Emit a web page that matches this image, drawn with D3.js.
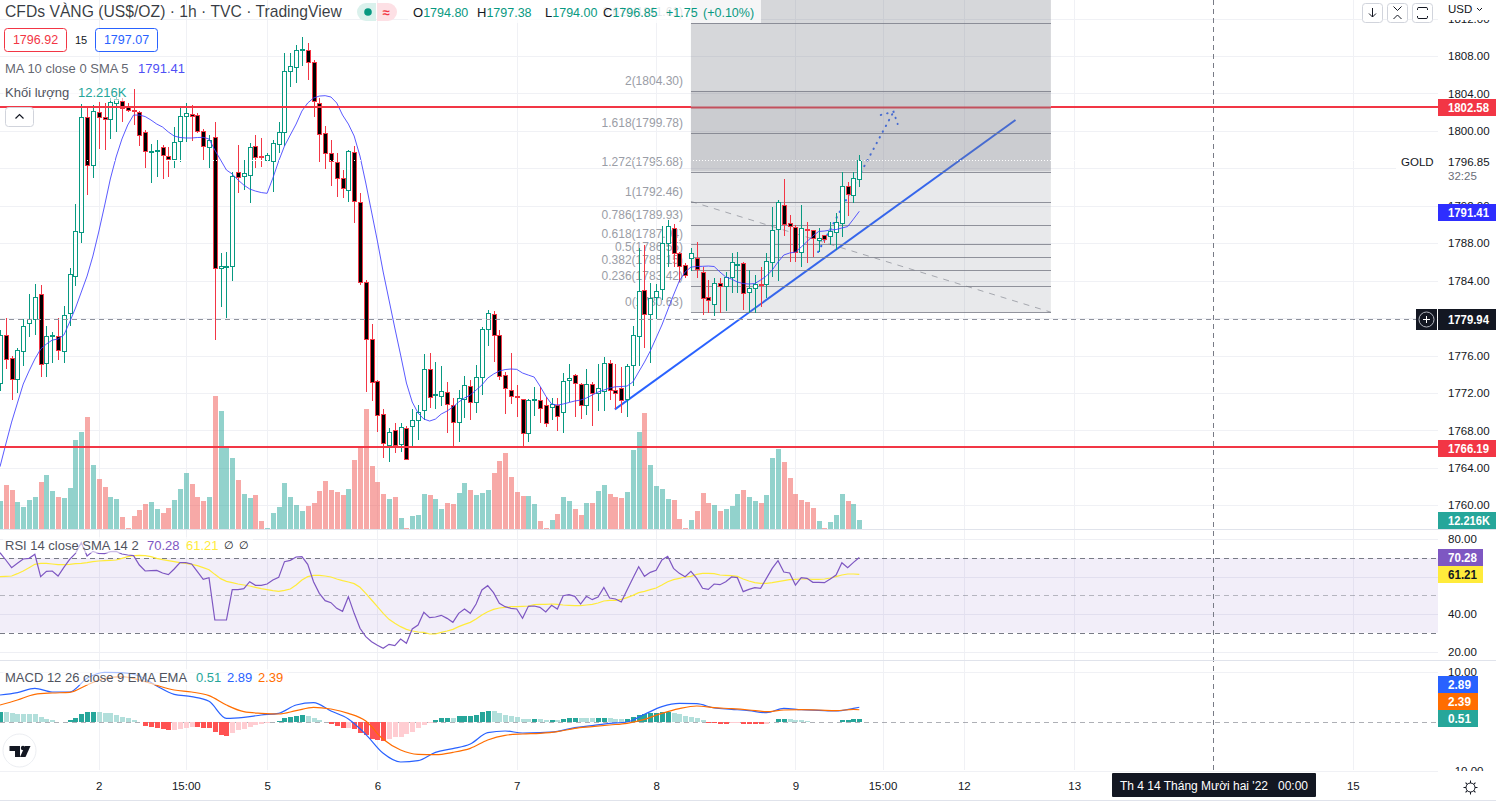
<!DOCTYPE html>
<html>
<head>
<meta charset="utf-8">
<script src="https://cdn.jsdelivr.net/npm/d3@7"></script>
<style>
  html, body { margin: 0; padding: 0; background: #fff; overflow: hidden; }
  svg { display: block; font-family: "Liberation Sans", Arial, sans-serif; }
</style>
</head>
<body>
<div id="svg"></div>
<script>
var width = 1496, height = 806;

// candles, one per hour
var opens = [1773.09,1778.19,1775.70,1773.45,1776.40,1779.44,1779.87,1782.54,1775.17,1778.08,
1778.05,1776.40,1780.51,1784.52,1789.19,1801.48,1796.35,1801.98,1801.45,1801.30,
1802.98,1803.19,1802.69,1802.23,1802.05,1799.85,1797.77,1797.88,1798.24,1797.28,
1797.07,1798.88,1801.55,1801.83,1801.73,1800.02,1798.20,1799.31,1785.35,1785.49,
1785.59,1795.57,1795.18,1795.36,1798.35,1797.28,1796.96,1796.85,1798.56,1799.80,
1806.36,1806.75,1808.64,1808.61,1807.32,1803.01,1799.74,1797.60,1796.70,1794.93,
1793.68,1797.71,1792.37,1783.82,1777.73,1773.31,1769.72,1766.51,1768.07,1766.51,
1768.28,1768.39,1769.14,1770.14,1774.52,1771.75,1771.75,1772.07,1770.68,1768.82,
1771.32,1772.71,1771.10,1773.67,1778.80,1780.40,1778.16,1773.88,1772.34,1771.70,
1771.32,1767.69,1771.28,1771.28,1770.74,1770.46,1770.71,1769.89,1773.35,1773.88,
1772.92,1770.68,1772.92,1772.07,1772.24,1775.23,1772.34,1772.49,1771.43,1774.91,
1778.16,1783.03,1780.36,1782.32,1783.07,1787.99,1789.59,1786.92,1785.70,1786.42,
1786.45,1784.95,1782.22,1781.47,1783.78,1783.42,1784.35,1785.70,1785.85,1782.86,
1783.18,1783.61,1783.61,1785.96,1789.48,1792.05,1790.12,1789.70,1787.02,1789.48,
1789.38,1788.31,1788.84,1788.73,1789.16,1790.12,1794.08,1793.22,1794.80];

var highs = [1778.72,1779.97,1775.95,1776.77,1779.87,1782.57,1783.64,1783.53,1779.15,1778.54,
1779.97,1781.29,1785.35,1792.18,1802.87,1802.65,1802.76,1803.08,1802.98,1803.51,
1803.62,1803.51,1802.98,1804.44,1802.15,1800.09,1798.56,1799.02,1798.49,1798.31,
1800.44,1802.52,1802.94,1802.76,1801.88,1800.17,1799.56,1800.98,1786.95,1787.09,
1795.64,1798.49,1796.89,1798.67,1799.56,1799.20,1797.60,1799.02,1800.91,1808.35,
1808.29,1809.17,1810.06,1809.42,1807.57,1803.48,1800.52,1799.02,1797.60,1795.82,
1797.95,1798.38,1793.33,1784.06,1779.36,1773.38,1770.25,1768.22,1768.82,1768.79,
1768.47,1770.25,1770.71,1776.16,1776.23,1775.27,1774.88,1773.14,1771.43,1772.31,
1773.81,1773.38,1774.98,1779.08,1780.86,1780.79,1778.72,1774.27,1776.23,1772.85,
1771.35,1771.35,1772.60,1772.60,1771.60,1771.43,1771.46,1774.13,1775.06,1774.02,
1773.09,1774.52,1773.14,1775.09,1775.81,1775.52,1775.09,1774.80,1775.06,1779.15,
1787.45,1787.80,1783.71,1783.64,1789.83,1790.48,1790.05,1787.09,1785.85,1787.45,
1788.09,1785.42,1784.06,1784.25,1784.25,1784.95,1786.98,1787.09,1786.02,1785.13,
1784.60,1785.49,1786.98,1791.90,1792.61,1794.86,1791.01,1789.94,1792.08,1790.29,
1789.41,1789.59,1788.87,1790.29,1791.19,1795.64,1794.57,1795.64,1797.38];

var lows = [1772.24,1774.56,1771.24,1772.02,1774.91,1778.01,1778.19,1773.73,1773.73,1775.23,
1775.52,1775.23,1779.15,1783.46,1788.02,1793.15,1794.96,1798.06,1797.95,1799.13,
1799.91,1800.98,1802.05,1800.62,1798.41,1796.06,1794.46,1795.10,1794.86,1795.10,
1796.06,1796.70,1798.84,1798.95,1799.74,1796.89,1796.06,1777.65,1781.21,1780.04,
1783.99,1793.33,1793.68,1792.32,1796.00,1796.11,1796.89,1793.50,1797.67,1798.41,
1804.72,1805.08,1806.96,1805.43,1801.51,1796.70,1795.89,1794.11,1792.96,1792.79,
1792.43,1790.12,1783.53,1772.13,1771.17,1767.86,1765.02,1764.65,1765.61,1765.72,
1764.94,1766.36,1766.97,1769.11,1770.36,1770.25,1770.60,1767.75,1766.25,1766.79,
1769.29,1769.11,1769.82,1771.78,1777.05,1775.30,1773.38,1769.75,1770.82,1769.46,
1766.25,1766.79,1769.57,1768.82,1768.39,1769.11,1767.96,1767.69,1771.06,1769.46,
1769.21,1769.64,1768.50,1770.07,1770.10,1771.24,1770.25,1769.89,1769.46,1772.77,
1774.91,1776.80,1775.23,1779.87,1781.93,1785.49,1785.49,1783.85,1784.25,1785.03,
1784.25,1780.33,1780.51,1780.25,1780.51,1780.75,1782.64,1782.64,1780.86,1780.51,
1780.51,1781.21,1782.17,1784.42,1783.99,1788.77,1786.02,1786.02,1785.42,1785.91,
1786.49,1787.02,1788.05,1787.80,1787.27,1788.69,1790.93,1792.26,1794.00];

var closes = [1778.19,1775.59,1773.45,1776.55,1779.12,1779.87,1782.22,1775.06,1778.05,1778.16,
1776.55,1780.29,1784.71,1789.30,1801.48,1796.35,1802.12,1801.45,1801.23,1803.11,
1803.37,1802.41,1802.30,1802.09,1799.63,1797.82,1797.88,1797.95,1797.39,1796.96,
1798.84,1801.55,1801.88,1801.66,1800.06,1798.46,1798.99,1785.35,1785.56,1785.56,
1795.18,1794.99,1795.46,1798.31,1797.17,1797.17,1797.45,1798.73,1799.85,1806.36,
1806.90,1808.61,1808.74,1807.32,1803.19,1799.74,1797.60,1796.75,1795.04,1793.82,
1797.82,1792.47,1783.82,1777.73,1773.14,1769.72,1766.62,1767.86,1766.44,1768.33,
1764.94,1769.08,1769.99,1774.52,1771.53,1771.89,1772.24,1770.78,1768.82,1771.43,
1772.81,1771.00,1773.73,1778.80,1780.51,1778.16,1773.73,1772.49,1771.75,1771.64,
1767.69,1771.21,1771.35,1770.46,1768.86,1770.78,1769.54,1773.24,1773.56,1773.03,
1770.68,1772.92,1771.96,1772.56,1775.23,1772.39,1772.07,1771.21,1774.91,1778.16,
1782.92,1780.43,1782.11,1782.92,1787.99,1789.80,1786.92,1785.53,1784.67,1786.92,
1785.31,1782.22,1781.90,1783.71,1783.50,1784.35,1785.96,1785.81,1782.64,1783.24,
1783.64,1783.46,1786.06,1789.41,1792.37,1790.02,1789.80,1787.02,1789.59,1789.33,
1788.52,1788.52,1788.41,1789.27,1790.23,1794.08,1793.22,1794.99,1796.85];

// volume in thousands
var volumes = [37.2,58.2,51.6,35.9,29.3,38.5,42.5,62.2,71.3,50.3,
42.5,41.1,54.3,117.3,127.8,147.5,84.5,66.1,55.6,42.5,
39.8,16.2,1.8,17.5,25.4,33.3,35.9,26.7,21.4,28.0,
38.5,53.0,74.0,59.5,42.5,37.2,42.5,175.1,155.4,109.4,
93.7,64.8,46.4,41.1,45.1,10.9,1.8,21.4,29.3,60.8,
42.5,32.0,24.1,30.6,34.6,50.3,63.5,51.6,49.0,45.1,
53.0,91.0,106.4,158.0,83.2,62.2,46.4,39.8,42.5,14.9,
1.8,17.5,18.8,46.4,45.1,39.8,26.7,34.6,33.3,47.7,
60.8,51.6,45.1,47.7,51.6,74.0,89.7,100.2,68.7,49.0,
43.8,43.8,33.3,10.9,1.8,12.3,20.1,42.5,37.2,26.7,
18.8,34.6,34.6,50.3,58.2,46.4,42.5,41.1,49.0,104.2,
127.8,152.8,84.5,56.9,53.0,39.8,38.5,13.6,1.8,12.3,
24.1,47.7,34.6,32.0,24.1,26.7,30.6,46.4,51.6,42.5,
37.2,34.6,45.1,93.7,105.5,88.4,67.4,46.4,38.5,35.9,
28.0,10.9,1.8,9.6,18.8,46.4,37.2,33.3,12.216];
// bars shown red even though the candle closed up
var volumeRedIndex = [138];

var maValues = [1764.12,1766.54,1768.89,1770.92,1772.95,1774.34,1775.62,1776.69,1777.23,1777.65,
1777.76,1778.19,1779.58,1781.07,1782.78,1784.49,1786.63,1789.19,1791.97,1794.86,
1797.21,1799.13,1800.63,1801.69,1801.69,1801.53,1801.16,1800.73,1800.41,1799.88,
1799.45,1799.29,1799.24,1799.24,1799.29,1799.31,1799.13,1797.95,1796.89,1795.82,
1795.39,1794.75,1794.21,1793.79,1793.57,1793.41,1793.33,1794.96,1796.78,1798.38,
1799.56,1800.73,1802.12,1802.98,1803.51,1803.72,1803.76,1803.62,1802.98,1801.69,
1800.73,1799.45,1797.31,1794.43,1791.33,1788.23,1784.92,1781.93,1778.94,1776.05,
1773.06,1771.03,1769.86,1769.21,1769.00,1769.21,1769.75,1770.07,1770.50,1771.03,
1771.46,1771.78,1772.31,1772.85,1773.59,1774.02,1774.34,1774.50,1774.56,1774.52,
1774.13,1773.91,1773.70,1772.74,1771.67,1770.82,1770.71,1770.82,1770.98,1771.14,
1771.24,1771.46,1771.78,1772.10,1772.31,1772.53,1772.66,1772.69,1772.74,1773.17,
1774.24,1775.30,1776.48,1777.87,1779.26,1780.86,1782.46,1783.96,1784.92,1785.45,
1785.51,1785.53,1785.56,1785.51,1784.92,1784.39,1784.17,1783.85,1783.69,1783.64,
1783.69,1784.06,1784.49,1785.13,1785.99,1786.74,1786.95,1787.06,1787.59,1788.18,
1788.77,1789.25,1789.30,1789.41,1789.46,1789.62,1789.78,1790.58,1791.41];

var rsiValues = [72.85,68.93,64.83,67.15,69.46,69.82,71.96,60.01,62.87,63.05,
60.37,65.01,69.28,72.49,78.20,71.07,73.56,72.49,72.31,73.38,
73.56,72.14,71.60,71.24,66.25,63.05,63.22,63.40,61.98,61.09,
64.12,67.50,67.50,66.79,62.69,58.59,59.48,36.84,36.84,36.84,
53.06,53.06,53.60,57.34,55.38,55.38,56.09,58.23,59.66,68.04,
68.75,70.53,70.71,66.61,57.34,51.10,47.18,46.11,43.08,41.48,
49.32,40.41,32.39,27.93,25.26,23.30,21.69,23.83,23.12,26.68,
24.37,32.03,34.17,40.94,38.09,38.45,39.34,37.73,35.59,40.41,
42.73,40.41,45.40,52.89,55.20,51.46,45.76,43.97,43.08,42.73,
37.73,44.15,44.33,43.62,41.12,44.69,42.73,49.85,50.39,49.50,
45.40,49.50,47.72,49.14,54.31,48.61,48.07,46.47,52.89,59.12,
65.36,60.19,62.33,63.40,68.93,70.89,64.47,61.80,60.01,62.87,
59.12,53.78,53.24,56.09,55.74,57.34,59.84,59.48,52.01,53.24,
54.13,53.78,59.12,64.47,68.57,62.51,61.98,55.56,59.48,59.12,
56.98,56.98,56.81,58.77,60.91,67.50,64.83,67.68,70.28];

var rsiSma = [60.01,60.19,60.37,61.62,63.05,64.83,66.61,67.15,67.15,66.79,
66.43,66.43,66.61,66.97,67.15,67.50,68.04,68.39,68.57,68.75,
68.93,69.82,70.71,71.24,71.42,71.24,70.71,69.82,69.11,68.57,
68.04,67.50,67.15,66.61,65.90,64.83,63.76,61.26,58.95,57.52,
56.81,56.09,55.56,55.02,54.31,53.60,53.06,52.53,52.17,52.71,
53.42,55.56,58.23,60.01,60.73,60.73,60.37,59.84,58.77,57.88,
57.16,56.27,54.31,51.10,47.54,43.97,40.41,37.20,35.06,33.28,
31.85,30.96,30.43,30.25,29.36,29.36,30.25,30.96,31.85,33.28,
34.53,35.59,37.38,39.52,41.30,42.55,43.26,43.62,43.97,43.97,
44.15,44.33,45.04,45.22,45.22,45.40,45.22,44.87,44.69,44.51,
44.51,44.87,45.22,45.93,47.00,47.36,47.36,47.89,48.79,50.03,
51.46,52.17,53.06,53.95,55.56,57.34,58.41,59.12,59.84,60.19,
61.26,61.80,61.80,61.62,60.91,60.73,60.55,60.19,58.77,57.70,
56.81,56.45,56.45,56.81,57.34,57.88,58.41,58.59,58.77,58.77,
58.59,58.59,58.77,59.30,60.01,60.91,61.44,61.44,61.21];

var macdHist = [1.90,1.90,1.76,1.56,1.56,1.56,1.56,0.95,0.54,0.34,
-0.07,-0.07,0.27,0.68,1.56,1.83,1.96,1.96,1.76,1.69,
1.36,0.95,0.75,0.34,-0.14,-0.88,-1.08,-1.29,-1.56,-1.69,
-1.63,-1.49,-1.36,-1.08,-1.08,-1.22,-1.29,-2.10,-2.71,-2.91,
-2.24,-1.69,-1.49,-1.02,-0.75,-0.47,-0.34,-0.20,0.14,0.75,
0.95,1.08,1.36,1.02,0.61,0.27,-0.07,-0.47,-0.95,-1.42,
-1.36,-1.56,-2.24,-2.71,-3.59,-3.73,-3.93,-3.52,-3.18,-3.05,
-2.51,-2.10,-1.42,-0.68,-0.34,0.27,0.61,0.75,0.75,1.02,
1.15,1.15,1.36,1.83,2.17,2.17,1.76,1.36,1.15,0.95,
0.54,0.54,0.54,0.54,0.34,0.34,0.34,0.54,0.75,0.75,
0.75,0.75,0.75,0.75,0.75,0.75,0.54,0.54,0.54,0.95,
1.36,1.56,1.69,1.69,1.83,1.96,1.69,1.56,1.15,0.95,
0.75,0.34,-0.27,-0.27,-0.47,-0.47,-0.27,-0.27,-0.47,-0.47,
-0.47,-0.47,-0.47,-0.20,0.54,0.54,0.54,0.34,0.27,0.14,
-0.07,-0.20,-0.20,-0.20,-0.20,0.34,0.34,0.54,0.51];

// D dark green, L light green, R red, P pale red
var macdKinds = ("DLLLLLLLLL" + "RRDDDDDLLL" + "LLLLRRRRRR" + "PPPPRRRRRR" +
  "PPPPPPPPDD" + "DDDLLLRRRR" + "PRRRRRRPPP" + "PPPPPDDDLD" +
  "DDDDDLLLLL" + "LLDLLDLDDD" + "LLLDDLLLDD" + "DDDDDDLLLL" +
  "LLRRRRPPRR" + "RRPPDDLLLL" + "RRRRPDDDD").split("");

var macdIndex = d3.range(0, 148, 3).concat([148]);
var macdLine = [5.39,5.86,6.74,6.00,6.00,8.77,9.99,9.93,9.25,7.22,
5.52,5.05,4.10,0.64,0.85,1.32,1.66,3.35,3.83,2.13,
0.51,-2.61,-6.47,-8.23,-7.96,-6.27,-5.52,-4.57,-2.27,-1.93,
-2.34,-2.27,-2.00,-1.25,-0.85,-0.37,-0.10,1.46,3.02,3.69,
3.62,2.74,2.47,2.20,1.80,2.68,2.41,2.27,2.13,2.68,2.89];
var macdSignal = [3.35,4.37,5.52,5.79,5.93,7.42,8.77,9.11,8.44,7.35,
6.40,6.00,5.25,3.35,2.00,1.66,1.52,2.20,2.88,2.54,
1.66,0.10,-3.62,-5.79,-6.67,-6.74,-6.27,-5.45,-3.76,-2.81,
-2.54,-2.41,-2.07,-1.39,-1.05,-0.71,-0.37,0.44,1.66,2.61,
3.15,2.81,2.61,2.34,2.00,2.34,2.41,2.34,2.20,2.47,2.39];

// fibonacci tool
var fibLevels = ["2.618","2","1.618","1.272","1","0.786","0.618","0.5","0.382","0.236","0"];
var fibPrices = [1811.61,1804.30,1799.78,1795.68,1792.46,1789.93,1787.94,1786.55,1785.15,1783.42,1780.63];
var fibZones = [[1814.1, 1804.30, 0.30], [1804.30, 1795.68, 0.385], [1795.68, 1780.63, 0.17]];
var fibStart = 119, fibEnd = 181;

var trendIndex = [105.9, 174.9], trendPrice = [1770.25, 1801.16];
var forecastIndex = [140.9, 153.9], forecastPrice = [1787.06, 1802.05];
var headIndex = [151.7, 153.9, 154.6], headPrice = [1801.7, 1802.05, 1800.73];

var redLevels = [1802.58, 1766.19];
var lastPrice = 1796.85, maLast = 1791.41, crossPrice = 1779.94, crossIndex = 209;

var priceTicks = d3.range(1760, 1813, 4);
var rsiTicks = [80, 60, 40, 20];
var rsiLabels = [80, 40, 20];
var macdTicks = [10, -10];
var timeIndex = [17, 32, 46, 65, 89, 113, 137, 152, 166, 185, 233];
var timeLabels = ["2", "15:00", "5", "6", "7", "8", "9", "15:00", "12", "13", "15"];

var plotRight = 1438;
var upColor = "#089981", downColor = "#f23645", ink = "#131722", muted = "#50535e";

var x = d3.scaleLinear().domain([0, 148]).range([0, 859.3]);
var y = d3.scaleLinear().domain([1760, 1808]).range([505.28, 56]);
var yVol = d3.scaleLinear().domain([0, 175.1]).range([529.3, 396]);
var yRsi = d3.scaleLinear().domain([20, 80]).range([651.5, 539.3]);
var yMacd = d3.scaleLinear().domain([-10, 10]).range([770.7, 672.3]);

function px(v) { return Math.round(v) + 0.5; }

var svg = d3.select("#svg").append("svg").attr("width", width).attr("height", height);

function text(g, tx, ty, str, color, size, anchor, weight) {
  return g.append("text").attr("x", tx).attr("y", ty).attr("dy", "0.35em")
    .attr("fill", color || ink).attr("font-size", size || 12)
    .attr("text-anchor", anchor || "start").attr("font-weight", weight || "normal")
    .text(str);
}

function hline(g, yy, x1, x2, color, dash, w) {
  return g.append("line").attr("x1", x1).attr("x2", x2).attr("y1", yy).attr("y2", yy)
    .attr("stroke", color).attr("stroke-width", w || 1).attr("stroke-dasharray", dash || null);
}

// grid
var grid = svg.append("g").attr("shape-rendering", "crispEdges");
grid.selectAll("line.v").data(timeIndex).join("line").attr("class", "v")
  .attr("x1", d => px(x(d))).attr("x2", d => px(x(d))).attr("y1", 0).attr("y2", 770)
  .attr("stroke", "#f0f1f5");
priceTicks.forEach(d => hline(grid, px(y(d)), 0, plotRight, "#f0f1f5"));
rsiTicks.forEach(d => hline(grid, px(yRsi(d)), 0, plotRight, "#eeeff4"));
macdTicks.forEach(d => hline(grid, px(yMacd(d)), 0, plotRight, "#f0f1f5"));

// drawings that sit under the fib fill
var under = svg.append("g");
hline(under, px(y(redLevels[0])), x(fibStart), x(fibEnd), downColor, null, 2);
under.append("line")
  .attr("x1", x(trendIndex[0])).attr("y1", y(trendPrice[0]))
  .attr("x2", x(trendIndex[1])).attr("y2", y(trendPrice[1]))
  .attr("stroke", "#2962ff").attr("stroke-width", 2);
under.append("line")
  .attr("x1", x(forecastIndex[0])).attr("y1", y(forecastPrice[0]))
  .attr("x2", x(forecastIndex[1])).attr("y2", y(forecastPrice[1]))
  .attr("stroke", "#2962ff").attr("stroke-width", 2).attr("stroke-linecap", "round")
  .attr("stroke-dasharray", "0.5 6");
under.append("path")
  .attr("d", d3.line().x((d, i) => x(headIndex[i])).y(d => y(d))(headPrice))
  .attr("fill", "none").attr("stroke", "#2962ff").attr("stroke-width", 2)
  .attr("stroke-linecap", "round").attr("stroke-dasharray", "0.5 6");

// fibonacci
var fib = svg.append("g");
fib.selectAll("rect").data(fibZones).join("rect")
  .attr("x", x(fibStart)).attr("width", x(fibEnd) - x(fibStart))
  .attr("y", d => y(d[0])).attr("height", d => y(d[1]) - y(d[0]))
  .attr("fill", "#787b86").attr("fill-opacity", d => d[2]);
fib.selectAll("line.level").data(fibPrices).join("line").attr("class", "level")
  .attr("x1", x(fibStart)).attr("x2", x(fibEnd))
  .attr("y1", d => px(y(d) + 0.3)).attr("y2", d => px(y(d) + 0.3))
  .attr("stroke", "#787b86").attr("stroke-opacity", 0.8).attr("shape-rendering", "crispEdges");
fib.append("line")
  .attr("x1", x(fibStart)).attr("y1", y(fibPrices[4]))
  .attr("x2", x(fibEnd)).attr("y2", y(fibPrices[10]))
  .attr("stroke", "#787b86").attr("stroke-opacity", 0.6).attr("stroke-dasharray", "6 6");
fib.selectAll("text").data(fibPrices).join("text")
  .attr("x", 683).attr("y", d => y(d) - 10).attr("dy", "0.35em")
  .attr("text-anchor", "end").attr("font-size", 12).attr("fill", "#9a9da6")
  .text((d, i) => fibLevels[i] + "(" + d.toFixed(2) + ")");

// volume
svg.append("g").attr("shape-rendering", "crispEdges")
  .selectAll("rect").data(volumes).join("rect")
  .attr("x", (d, i) => Math.round(x(i)) - 2).attr("width", 5)
  .attr("y", d => yVol(d)).attr("height", d => yVol(0) - yVol(d))
  .attr("fill", (d, i) => closes[i] >= opens[i] && !volumeRedIndex.includes(i) ? "#26a69a" : "#ef5350")
  .attr("fill-opacity", 0.5);

// candles
var candles = svg.append("g").attr("shape-rendering", "crispEdges")
  .selectAll("g").data(d3.range(opens.length)).join("g");
candles.append("line")
  .attr("x1", i => px(x(i))).attr("x2", i => px(x(i)))
  .attr("y1", i => y(highs[i])).attr("y2", i => y(lows[i]))
  .attr("stroke", i => closes[i] >= opens[i] ? upColor : downColor);
candles.append("rect")
  .attr("x", i => Math.round(x(i)) - 1.5).attr("width", 4)
  .attr("y", i => px(y(Math.max(opens[i], closes[i]))))
  .attr("height", i => Math.max(1, Math.round(y(Math.min(opens[i], closes[i])) - y(Math.max(opens[i], closes[i])))))
  .attr("fill", i => closes[i] >= opens[i] ? "#fff" : "#000")
  .attr("stroke", i => closes[i] >= opens[i] ? upColor : downColor);

// moving average
svg.append("path")
  .attr("d", d3.line().x((d, i) => x(i)).y(d => y(d))(maValues))
  .attr("fill", "none").attr("stroke", "#3d3dff").attr("stroke-opacity", 0.85).attr("stroke-width", 1);

// red levels
var upper = svg.append("g").attr("shape-rendering", "crispEdges");
hline(upper, y(redLevels[0]), 0, x(fibStart), downColor, null, 2);
hline(upper, y(redLevels[0]), x(fibEnd), plotRight, downColor, null, 2);
hline(upper, y(redLevels[1]), 0, plotRight, downColor, null, 2);
hline(upper, px(y(lastPrice)), 0, plotRight, "#fff", "1 2");

// rsi pane
var rsi = svg.append("g");
rsi.append("rect").attr("x", 0).attr("width", plotRight)
  .attr("y", yRsi(70)).attr("height", yRsi(30) - yRsi(70))
  .attr("fill", "#7e57c2").attr("fill-opacity", 0.1);
hline(rsi, px(yRsi(70)), 0, plotRight, "#787b86", "5 4").attr("shape-rendering", "crispEdges");
hline(rsi, px(yRsi(50)), 0, plotRight, "#787b86", "5 4").attr("stroke-opacity", 0.5).attr("shape-rendering", "crispEdges");
hline(rsi, px(yRsi(30)), 0, plotRight, "#787b86", "5 4").attr("shape-rendering", "crispEdges");
rsi.append("path").attr("d", d3.line().x((d, i) => x(i)).y(d => yRsi(d))(rsiSma))
  .attr("fill", "none").attr("stroke", "#ffeb3b").attr("stroke-width", 1.2);
rsi.append("path").attr("d", d3.line().x((d, i) => x(i)).y(d => yRsi(d))(rsiValues))
  .attr("fill", "none").attr("stroke", "#7e57c2").attr("stroke-width", 1.2);

// macd pane
var macd = svg.append("g");
hline(macd, px(yMacd(0)), 0, plotRight, "#787b86", "5 4").attr("stroke-opacity", 0.6).attr("shape-rendering", "crispEdges");
var histColors = { D: "#26a69a", L: "#b2dfdb", R: "#ff5252", P: "#ffcdd2" };
macd.append("g").attr("shape-rendering", "crispEdges")
  .selectAll("rect").data(macdHist).join("rect")
  .attr("x", (d, i) => Math.round(x(i)) - 2).attr("width", 5)
  .attr("y", d => Math.min(yMacd(d), yMacd(0)))
  .attr("height", d => Math.abs(yMacd(d) - yMacd(0)))
  .attr("fill", (d, i) => histColors[macdKinds[i]]);
var macdPath = d3.line().x((d, i) => x(macdIndex[i])).y(d => yMacd(d)).curve(d3.curveMonotoneX);
macd.append("path").attr("d", macdPath(macdLine)).attr("fill", "none").attr("stroke", "#2962ff").attr("stroke-width", 1.2);
macd.append("path").attr("d", macdPath(macdSignal)).attr("fill", "none").attr("stroke", "#ff6d00").attr("stroke-width", 1.2);

// crosshair
var cross = svg.append("g").attr("shape-rendering", "crispEdges");
cross.append("line").attr("x1", px(x(crossIndex))).attr("x2", px(x(crossIndex))).attr("y1", 0).attr("y2", 771)
  .attr("stroke", "#787b86").attr("stroke-dasharray", "5 4");
hline(cross, px(y(crossPrice)), 0, 1416, "#8f939e", "5 4");

// pane borders
var borders = svg.append("g").attr("shape-rendering", "crispEdges");
hline(borders, 529.5, 0, width, "#e0e3eb");
hline(borders, 660.5, 0, width, "#e0e3eb");
hline(borders, 800.5, 0, width, "#e0e3eb");

// axes
var axes = svg.append("g");
var fmt = d3.format(".2f");
function rightAxis(scale, ticks) {
  var g = axes.append("g").attr("transform", "translate(" + (plotRight + 10) + ",0)")
    .call(d3.axisRight(scale).tickValues(ticks).tickSize(0).tickPadding(0).tickFormat(fmt));
  g.select(".domain").remove();
  g.selectAll("text").attr("font-family", null).attr("font-size", 11.5).attr("fill", ink);
}
rightAxis(y, priceTicks);
rightAxis(yRsi, rsiLabels);
rightAxis(yMacd, macdTicks);
axes.append("rect").attr("x", plotRight).attr("y", 0).attr("width", 58).attr("height", 20).attr("fill", "#fff");
axes.append("rect").attr("x", plotRight).attr("y", 771).attr("width", 58).attr("height", 29).attr("fill", "#fff");

var tAxis = axes.append("g").attr("transform", "translate(0,782)")
  .call(d3.axisBottom(x).tickValues(timeIndex).tickSize(0).tickPadding(0)
    .tickFormat((d, i) => timeLabels[i]));
tAxis.select(".domain").remove();
tAxis.selectAll("text").attr("font-family", null).attr("font-size", 11.5).attr("fill", ink);

// price labels
function tag(g, yy, w, h, fill, str, color) {
  g.append("rect").attr("x", plotRight).attr("y", yy - h / 2).attr("width", w).attr("height", h).attr("fill", fill);
  text(g, plotRight + 10, yy, str, color || "#fff", 12, "start", "bold").attr("textLength", 41).attr("lengthAdjust", "spacingAndGlyphs");
}
var tags = svg.append("g").attr("shape-rendering", "crispEdges");
tags.append("rect").attr("x", 1396).attr("y", 154).attr("width", 100).attr("height", 29).attr("fill", "#fff");
text(tags, 1401, 161.5, "GOLD", ink, 11.5);
text(tags, plotRight + 10, 161.5, fmt(lastPrice), ink, 11.5);
text(tags, plotRight + 10, 175.6, "32:25", "#6a6d78", 11.5);
tag(tags, 107.5, 58, 17, "#f23645", fmt(redLevels[0]));
tag(tags, 212.5, 58, 17, "#2e2eff", fmt(maLast));
tag(tags, 319.5, 58, 21, "#131722", fmt(crossPrice));
tags.append("rect").attr("x", 1416).attr("y", 309).attr("width", 21).attr("height", 21).attr("fill", "#131722");
tags.append("circle").attr("cx", 1426.5).attr("cy", 319.5).attr("r", 7.5).attr("fill", "none").attr("stroke", "#b2b5be")
  .attr("shape-rendering", "auto");
tags.append("path").attr("d", "M1423 319.5H1430M1426.5 316V323").attr("stroke", "#fff");
tag(tags, 448.5, 58, 17, "#f23645", fmt(redLevels[1]));
tags.append("rect").attr("x", plotRight).attr("y", 512).attr("width", 58).attr("height", 17).attr("fill", "#26a69a");
text(tags, plotRight + 10, 520.5, "12.216K", "#fff", 12, "start", "bold").attr("textLength", 42).attr("lengthAdjust", "spacingAndGlyphs");
tag(tags, 557.5, 45, 17, "#7e57c2", "70.28");
tag(tags, 574.5, 45, 17, "#ffeb3b", "61.21", ink);
tag(tags, 684.5, 40, 17, "#2962ff", "2.89");
tag(tags, 701.5, 40, 17, "#ff6d00", "2.39");
tag(tags, 718.5, 40, 17, "#26a69a", "0.51");
tags.selectAll("text").filter(function () { return +d3.select(this).attr("textLength") === 41 && this.textContent.length === 4; })
  .attr("textLength", 23);
tags.selectAll("text").filter(function () { return this.textContent === "70.28" || this.textContent === "61.21"; })
  .attr("textLength", 29);

// date tag under the crosshair
svg.append("rect").attr("x", 1112).attr("y", 773).attr("width", 204).attr("height", 24).attr("fill", "#131722").attr("rx", 1);
text(svg, 1214, 786, "Th 4 14 Tháng Mười hai '22   00:00", "#fff", 12, "middle").style("white-space", "pre");

// header
var head = svg.append("g");
head.append("rect").attr("x", 408).attr("y", 0).attr("width", 353).attr("height", 23).attr("fill", "#fff").attr("fill-opacity", 0.75);
text(head, 5, 11.5, "CFDs VÀNG (US$/OZ) · 1h · TVC · TradingView", ink, 15.7).attr("fill-opacity", 0.85);
head.append("path").attr("d", "M376 3H366a9 9 0 0 0 0 18H376Z").attr("fill", "#daf1ec");
head.append("path").attr("d", "M377 3H388a9 9 0 0 1 0 18H377Z").attr("fill", "#fde0e5");
head.append("circle").attr("cx", 368).attr("cy", 12).attr("r", 3.8).attr("fill", upColor);
text(head, 386, 12, "≈", downColor, 13, "middle", "bold");

var ohlc = [["O", 413, "1794.80"], ["H", 477, "1797.38"], ["L", 545, "1794.00"], ["C", 603, "1796.85"]];
ohlc.forEach(function (d) {
  var t = text(head, d[1], 12.5, d[0], ink, 13);
  t.append("tspan").attr("fill", upColor).attr("font-size", 12.5).text(d[2]);
});
text(head, 666, 12.5, "+1.75", upColor, 12.5);
text(head, 703, 12.5, "(+0.10%)", upColor, 12.5);

function priceBox(bx, w, color, str) {
  head.append("rect").attr("x", bx + 0.5).attr("y", 28.5).attr("width", w).attr("height", 23)
    .attr("rx", 3).attr("fill", "#fff").attr("stroke", color);
  text(head, bx + w / 2 + 0.5, 40, str, color, 12.5, "middle");
}
priceBox(4, 62, "#f23645", "1796.92");
text(head, 81, 40, "15", ink, 11, "middle");
priceBox(95, 62, "#2962ff", "1797.07");

text(head, 5, 68, "MA 10 close 0 SMA 5", muted, 13).attr("fill-opacity", 0.9);
text(head, 138, 68, fmt(maLast), "#4f4ff5", 13);

head.append("rect").attr("x", 3).attr("y", 84).attr("width", 127).attr("height", 17).attr("fill", "#fff").attr("fill-opacity", 0.6);
text(head, 5, 92.5, "Khối lượng", muted, 13);
text(head, 78, 92.5, "12.216K", "#26a69a", 13);

head.append("rect").attr("x", 5.5).attr("y", 107.5).attr("width", 28).attr("height", 19).attr("rx", 3)
  .attr("fill", "#fff").attr("stroke", "#d1d4dc");
head.append("path").attr("d", "M15.5 118.5L19.5 114.5L23.5 118.5").attr("fill", "none").attr("stroke", ink).attr("stroke-width", 1.2);

head.append("rect").attr("x", 3).attr("y", 537).attr("width", 250).attr("height", 16).attr("fill", "#fff").attr("fill-opacity", 0.6);
text(head, 5, 545.5, "RSI 14 close SMA 14 2", muted, 13);
text(head, 147, 545.5, "70.28", "#7e57c2", 13);
text(head, 186, 545.5, "61.21", "#ffeb3b", 13);
text(head, 224, 545.5, "∅", ink, 11);
text(head, 239, 545.5, "∅", ink, 11);

head.append("rect").attr("x", 3).attr("y", 669).attr("width", 285).attr("height", 16).attr("fill", "#fff").attr("fill-opacity", 0.6);
text(head, 5, 677.5, "MACD 12 26 close 9 EMA EMA", muted, 13);
text(head, 196, 677.5, "0.51", "#26a69a", 13);
text(head, 227, 677.5, "2.89", "#2962ff", 13);
text(head, 258, 677.5, "2.39", "#ff6d00", 13);

// tradingview mark
var logo = svg.append("g");
logo.append("circle").attr("cx", 19.5).attr("cy", 750.5).attr("r", 16.5).attr("fill", "#fff").attr("stroke", "#eceef2");
logo.append("path").attr("d", "M9.5 746H20V757H15V751H9.5Z").attr("fill", ink);
logo.append("circle").attr("cx", 23).attr("cy", 748).attr("r", 2.2).attr("fill", ink);
logo.append("path").attr("d", "M25 746H30.5L25.5 757H20Z").attr("fill", ink);

// top right buttons
var buttons = svg.append("g");
[1362, 1387, 1412].forEach(function (bx) {
  buttons.append("rect").attr("x", bx + 0.5).attr("y", 3.5).attr("width", 20).attr("height", 19).attr("rx", 3)
    .attr("fill", "#fff").attr("stroke", "#d1d4dc");
});
buttons.append("path").attr("d", "M1372.5 8V17M1369 13.5L1372.5 17L1376 13.5").attr("fill", "none").attr("stroke", ink);
buttons.append("path").attr("d", "M1393.5 6.5L1397.5 10.5L1401.5 6.5M1393.5 19L1397.5 15L1401.5 19").attr("fill", "none").attr("stroke", ink);
buttons.append("path").attr("d", "M1417.5 10V8.5Q1417.5 7.5 1419 7.5H1426Q1427.5 7.5 1427.5 8.5V10M1417.5 16V17.5Q1417.5 18.5 1419 18.5H1426Q1427.5 18.5 1427.5 17.5V16").attr("fill", "none").attr("stroke", ink);
text(buttons, plotRight + 10, 9, "USD", ink, 11.5);
buttons.append("path").attr("d", "M1477 8L1479.5 10.5L1482 8").attr("fill", "none").attr("stroke", ink);

// settings icon
var gear = svg.append("g").attr("transform", "translate(1470.5,787.5)");
gear.append("circle").attr("r", 4.5).attr("fill", "none").attr("stroke", ink);
d3.range(0, 360, 45).forEach(function (a) {
  gear.append("line").attr("x1", 4.5).attr("x2", 7).attr("transform", "rotate(" + a + ")").attr("stroke", ink);
});
</script>
</body>
</html>
